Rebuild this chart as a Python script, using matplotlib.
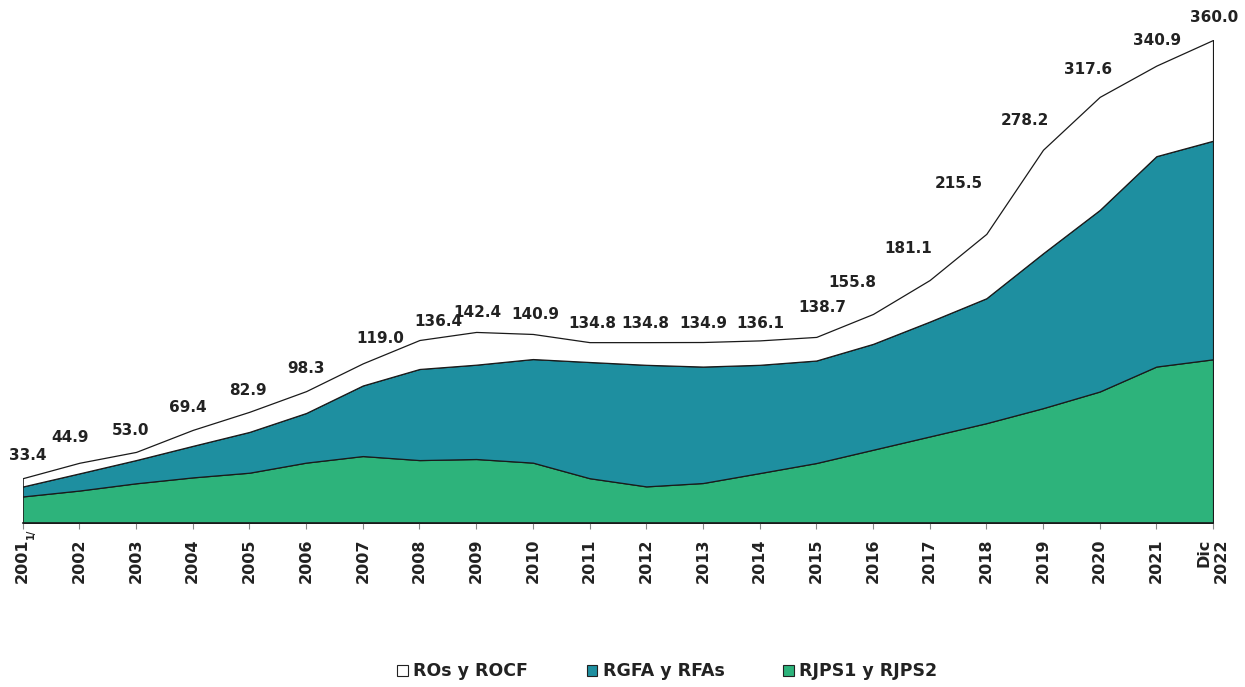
import matplotlib.pyplot as plt

# Data (mil millones), stacked from bottom to top
years = list(range(2001, 2023))
year_labels = ["2001"] + [str(y) for y in range(2002, 2022)] + ["Dic\n2022"]

rjps = [19.8, 24.2, 29.6, 34.0, 37.5, 45.0, 49.9, 46.9, 47.7, 45.0, 33.4,
        27.3, 29.8, 37.2, 44.7, 54.6, 64.5, 74.4, 85.6, 98.0, 116.6, 122.0]
rgfa = [7.4, 12.8, 17.3, 23.5, 30.4, 37.0, 52.6, 67.9, 70.3, 77.2, 86.6,
        90.6, 86.8, 80.7, 76.4, 78.9, 85.6, 93.1, 115.4, 135.3, 156.8, 162.9]
ros = [6.2, 7.9, 6.1, 11.9, 15.0, 16.3, 16.5, 21.6, 24.4, 18.7, 14.8,
       16.9, 18.3, 18.2, 17.6, 22.3, 31.0, 48.0, 77.2, 84.3, 67.5, 75.1]
totals = [33.4, 44.9, 53.0, 69.4, 82.9, 98.3, 119.0, 136.4, 142.4, 140.9, 134.8,
          134.8, 134.9, 136.1, 138.7, 155.8, 181.1, 215.5, 278.2, 317.6, 340.9, 360.0]

series_names = ["RJPS1 y RJPS2", "RGFA y RFAs", "ROs y ROCF"]
colors = ["#2db37b", "#1e8fa0", "#ffffff"]

# label shift in pixels (dx, dy) relative to the top of the stack
label_shift = [(5, 23), (-9, 25), (-5, 21), (-5, 22), (-1, 21), (0, 23), (17, 25),
               (19, 18), (1, 19), (2, 19), (3, 19), (-1, 19), (0, 19), (1, 17),
               (6, 29), (-21, 31), (-21, 32), (-27, 50), (-18, 29), (-12, 27),
               (1, 25), (1, 22)]


def main() -> None:
    plt.rcParams["font.family"] = "DejaVu Sans"

    fig = plt.figure(figsize=(12.45, 6.87), dpi=100)
    ax = fig.add_axes([0.01823, 0.2387, 0.9561, 0.7031])

    ax.stackplot(
        years, rjps, rgfa, ros,
        colors=colors,
        edgecolor="#1a1a1a",
        linewidth=0.9,
        labels=series_names
    )

    ax.set_xlim(2001, 2022)
    ax.set_ylim(0, 360)

    # Value labels above the total line
    for yr, tot, (dx, dy) in zip(years, totals, label_shift):
        ax.annotate(
            f"{tot:.1f}",
            xy=(yr, tot),
            xytext=(dx * 0.72, dy * 0.72),
            textcoords="offset points",
            ha="center",
            va="center",
            fontsize=11,
            fontweight="bold",
            color="#222222",
            annotation_clip=False
        )

    for side in ["top", "right", "left"]:
        ax.spines[side].set_visible(False)
    ax.spines["bottom"].set_color("#1a1a1a")
    ax.spines["bottom"].set_linewidth(1.2)

    ax.set_yticks([])
    ax.set_xticks(years)
    ax.set_xticklabels(year_labels, rotation=90, fontsize=11.5,
                       fontweight="bold", color="#222222", ma="right")
    ax.tick_params(axis="x", length=4, width=0.8, color="#888888", pad=7)

    # footnote mark next to the first year
    ax.annotate(
        "1/",
        xy=(years[0], 0),
        xytext=(6, -8),
        textcoords="offset points",
        rotation=90,
        ha="center",
        va="center",
        fontsize=7,
        fontweight="bold",
        color="#222222",
        annotation_clip=False
    )

    # Legend in reference order
    handles, labels = ax.get_legend_handles_labels()
    order = [2, 1, 0]
    leg = fig.legend(
        [handles[i] for i in order],
        [labels[i] for i in order],
        loc="center",
        bbox_to_anchor=(0.536, 0.023),
        ncol=3,
        frameon=False,
        handlelength=0.6,
        handleheight=0.6,
        handletextpad=0.3,
        columnspacing=3.4,
        prop={"weight": "bold", "size": 12.5}
    )
    for h in leg.legend_handles:
        h.set_edgecolor("#222222")
        h.set_linewidth(0.8)
    for t in leg.get_texts():
        t.set_color("#222222")

    fig.savefig("out.png", dpi=100)


if __name__ == "__main__":
    main()
